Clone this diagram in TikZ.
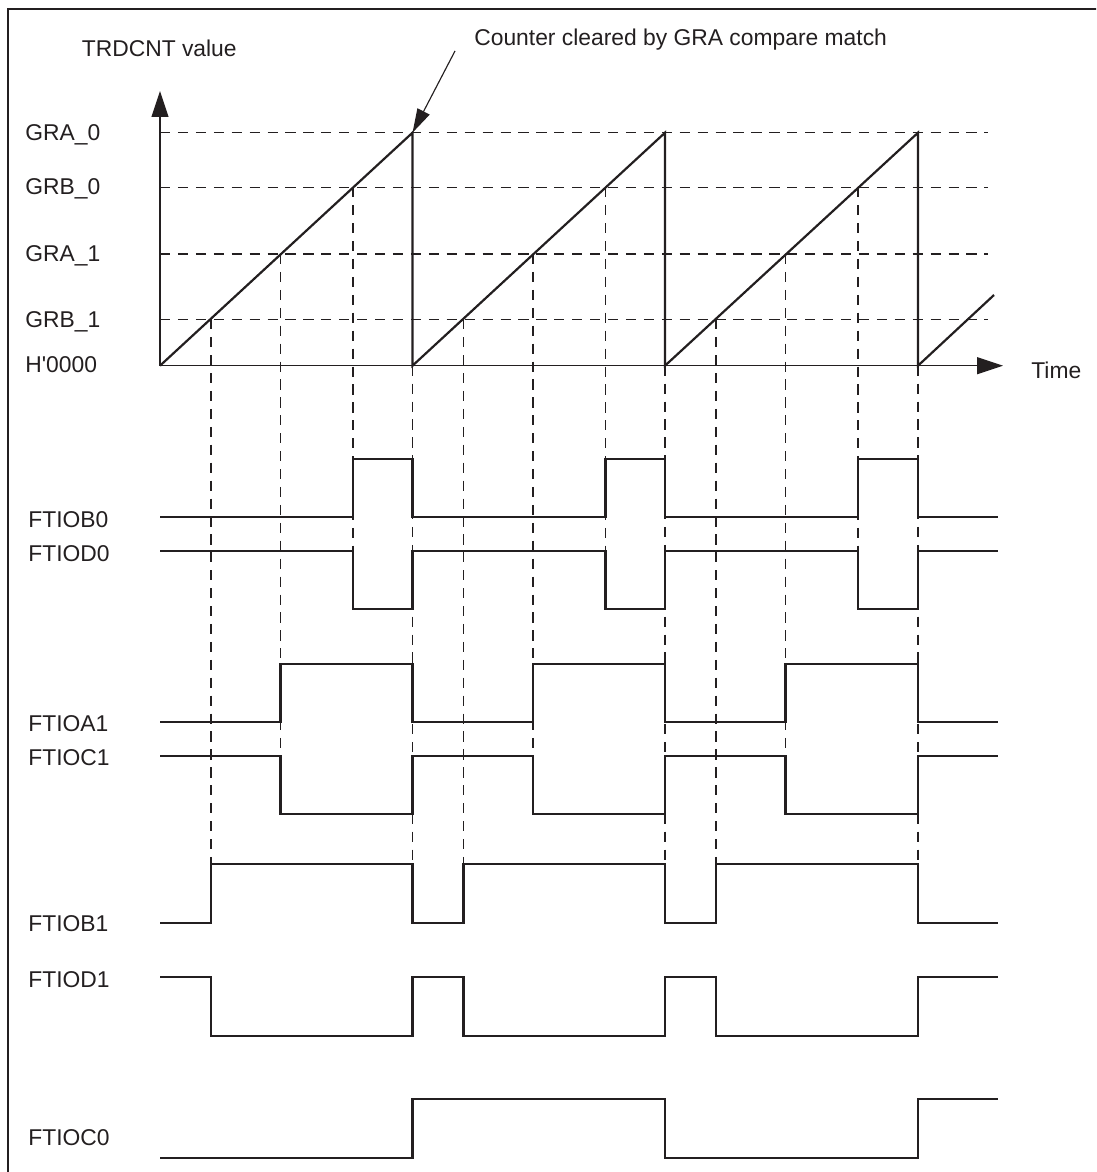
\documentclass[tikz,border=0pt]{standalone}
\usepackage{fontspec}
\newfontfamily\labfont{Liberation Sans}
\usetikzlibrary{arrows.meta}
\definecolor{tblack}{HTML}{231F20}
\tikzset{
  lbl/.style={font=\labfont\fontsize{13}{15}\selectfont, text=tblack, inner sep=0pt, anchor=base west},
  guide/.style={tblack, line width=0.65pt, dash pattern=on 5.8pt off 4.4pt},
  wave/.style={tblack, line width=1.25pt},
  axisline/.style={tblack, line width=0.65pt},
}

\begin{document}
\begin{tikzpicture}[x=0.02cm, y=-0.02cm]
\useasboundingbox (0,0) rectangle (1096,1172);
\clip (0,0) rectangle (1096,1172);
\draw[tblack, line width=1.2pt] (8,9) rectangle (1110,1185);
% counter levels and crossing points
\coordinate (org) at (160,365.7);
\coordinate (ytip) at (160,91);
\coordinate (xtip) at (1003,365.7);
\coordinate (pk1) at (412.5,132.7);
\coordinate (pk2) at (665,132.7);
\coordinate (pk3) at (918,132.7);
\coordinate (callout) at (455,51);
\node[lbl] (ylab) at (81.5,56.7) {TRDCNT value};
\node[lbl] (note) at (474,46) {Counter cleared by GRA compare match};
\node[lbl] (tlab) at (1031,378.3) {Time};
\node[lbl] (gra0) at (25,141) {GRA\_0};
\node[lbl] (grb0) at (25,195) {GRB\_0};
\node[lbl] (gra1) at (25,261.7) {GRA\_1};
\node[lbl] (grb1) at (25,327.3) {GRB\_1};
\node[lbl] (zero) at (25,372.3) {H'0000};
\draw[guide] (160,132.7) -- (988,132.7);
\draw[guide] (160,187.3) -- (988,187.3);
\draw[guide] (160,254) -- (988,254);
\draw[guide] (160,319.3) -- (988,319.3);
\draw[guide] (211,319.3) -- (211,864.3);
\draw[guide] (280.5,254) -- (280.5,814.3);
\draw[guide] (353,187.3) -- (353,609.3);
\draw[guide] (412.5,365.7) -- (412.5,864.3);
\draw[guide] (463.5,319.3) -- (463.5,864.3);
\draw[guide] (533,254) -- (533,814.3);
\draw[guide] (605.5,187.3) -- (605.5,609.3);
\draw[guide] (665,365.7) -- (665,864.3);
\draw[guide] (716,319.3) -- (716,864.3);
\draw[guide] (785.5,254) -- (785.5,814.3);
\draw[guide] (858,187.3) -- (858,609.3);
\draw[guide] (918,365.7) -- (918,864.3);
\draw[axisline, -{Triangle[length=5.2mm, width=3.4mm]}] (org) -- (ytip);
\draw[axisline, -{Triangle[length=5.2mm, width=3.4mm]}] (org) -- (xtip);
\draw[axisline, -{Triangle[length=4.8mm, width=2.7mm]}] (callout) -- (pk1);
\draw[wave] (org) -- (pk1) -- (412.5,365.7) -- (pk2) -- (665,365.7) -- (pk3) -- (918,365.7) -- (994,295);
% output pins
\node[lbl] (b0lab) at (28,527.7) {FTIOB0};
\node[lbl] (d0lab) at (28,561.7) {FTIOD0};
\node[lbl] (a1lab) at (28,731) {FTIOA1};
\node[lbl] (c1lab) at (28,765) {FTIOC1};
\node[lbl] (b1lab) at (28,931.7) {FTIOB1};
\node[lbl] (d1lab) at (28,987) {FTIOD1};
\node[lbl] (c0lab) at (28,1145.7) {FTIOC0};
\draw[wave] (160,517.3) -| (353,459.3) -| (412.5,517.3) -| (605.5,459.3) -| (665,517.3) -| (858,459.3) -| (918,517.3) -- (998,517.3);
\draw[wave] (160,551.3) -| (353,609.3) -| (412.5,551.3) -| (605.5,609.3) -| (665,551.3) -| (858,609.3) -| (918,551.3) -- (998,551.3);
\draw[wave] (160,722.3) -| (280.5,664) -| (412.5,722.3) -| (533,664) -| (665,722.3) -| (785.5,664) -| (918,722.3) -- (998,722.3);
\draw[wave] (160,755.7) -| (280.5,814.3) -| (412.5,755.7) -| (533,814.3) -| (665,755.7) -| (785.5,814.3) -| (918,755.7) -- (998,755.7);
\draw[wave] (160,922.7) -| (211,864.3) -| (412.5,922.7) -| (463.5,864.3) -| (665,922.7) -| (716,864.3) -| (918,922.7) -- (998,922.7);
\draw[wave] (160,977.3) -| (211,1035.7) -| (412.5,977.3) -| (463.5,1035.7) -| (665,977.3) -| (716,1035.7) -| (918,977.3) -- (998,977.3);
\draw[wave] (160,1157.7) -| (412.5,1099.3) -| (665,1157.7) -| (918,1099.3) -- (998,1099.3);
\end{tikzpicture}
\end{document}
